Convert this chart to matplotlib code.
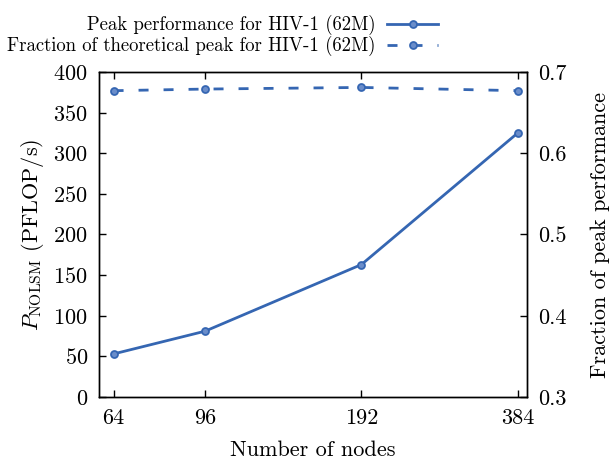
import matplotlib
matplotlib.use("Agg")
import matplotlib.pyplot as plt
from matplotlib.ticker import FixedLocator, FixedFormatter, NullLocator

nodes = [64, 96, 192, 384]
peak_pflops = [53, 81, 163, 325]
fraction = [0.677, 0.679, 0.681, 0.677]
xtick_labels = ["64", "96", "192", "384"]
left_ticks = [0, 50, 100, 150, 200, 250, 300, 350, 400]
right_ticks = [0.3, 0.4, 0.5, 0.6, 0.7]

plt.rcParams['font.family'] = ['cmr10', 'DejaVu Serif']
plt.rcParams['mathtext.fontset'] = 'cm'
plt.rcParams['axes.formatter.use_mathtext'] = True
plt.rcParams['lines.scale_dashes'] = False
plt.rcParams['axes.unicode_minus'] = False

color = '#3566b2'
fs = 16
lfs = 13.5

fig = plt.figure(figsize=(6.12, 4.61), dpi=100)
W, H = 612, 461
ax = fig.add_axes([99 / W, (H - 397) / H, (527 - 99) / W, (397 - 72) / H])
ax2 = ax.twinx()

l1, = ax.plot(nodes, peak_pflops, '-', color=color, lw=2, marker='o', ms=5,
              mfc='#6a8dca', mec=color, mew=1.3)
l2, = ax2.plot(nodes, fraction, color=color, lw=2, marker='o', ms=5,
               mfc='#6a8dca', mec=color, mew=1.3, dashes=(7.2, 10.8))

ax.set_xscale('log', base=2)
ax.set_xlim(60, 400)
ax.xaxis.set_major_locator(FixedLocator(nodes))
ax.xaxis.set_major_formatter(FixedFormatter(xtick_labels))
ax.xaxis.set_minor_locator(NullLocator())
ax.set_ylim(0, 400)
ax.set_yticks(left_ticks)
ax2.set_ylim(0.3, 0.7)
ax2.set_yticks(right_ticks)
ax2.set_yticklabels([f"{v:.1f}" for v in right_ticks])

ax.tick_params(axis='x', direction='in', top=True, length=5, width=1, labelsize=fs, pad=8)
ax.tick_params(axis='y', direction='in', right=False, length=5, width=1, labelsize=fs, pad=8)
ax2.tick_params(axis='y', direction='in', length=5, width=1, labelsize=fs, pad=8)
for a in (ax, ax2):
    for s in a.spines.values():
        s.set_linewidth(1.0)

ax.set_xlabel('Number of nodes', fontsize=fs, labelpad=9)
ax.set_ylabel(r'$P_{\mathrm{NOLSM}}$ (PFLOP/s)', fontsize=fs, labelpad=5)
ax2.set_ylabel('Fraction of peak performance', fontsize=fs, labelpad=17)

fig.legend([l1, l2], ['Peak performance for HIV-1 (62M)',
                      'Fraction of theoretical peak for HIV-1 (62M)'],
           loc='upper right', bbox_to_anchor=(438 / W, 1.0 - 15 / H), frameon=False,
           markerfirst=False, fontsize=lfs, handlelength=2.7, handletextpad=0.65,
           labelspacing=0.05, borderaxespad=0.0, borderpad=0.0)

fig.savefig('out.png', dpi=100)
